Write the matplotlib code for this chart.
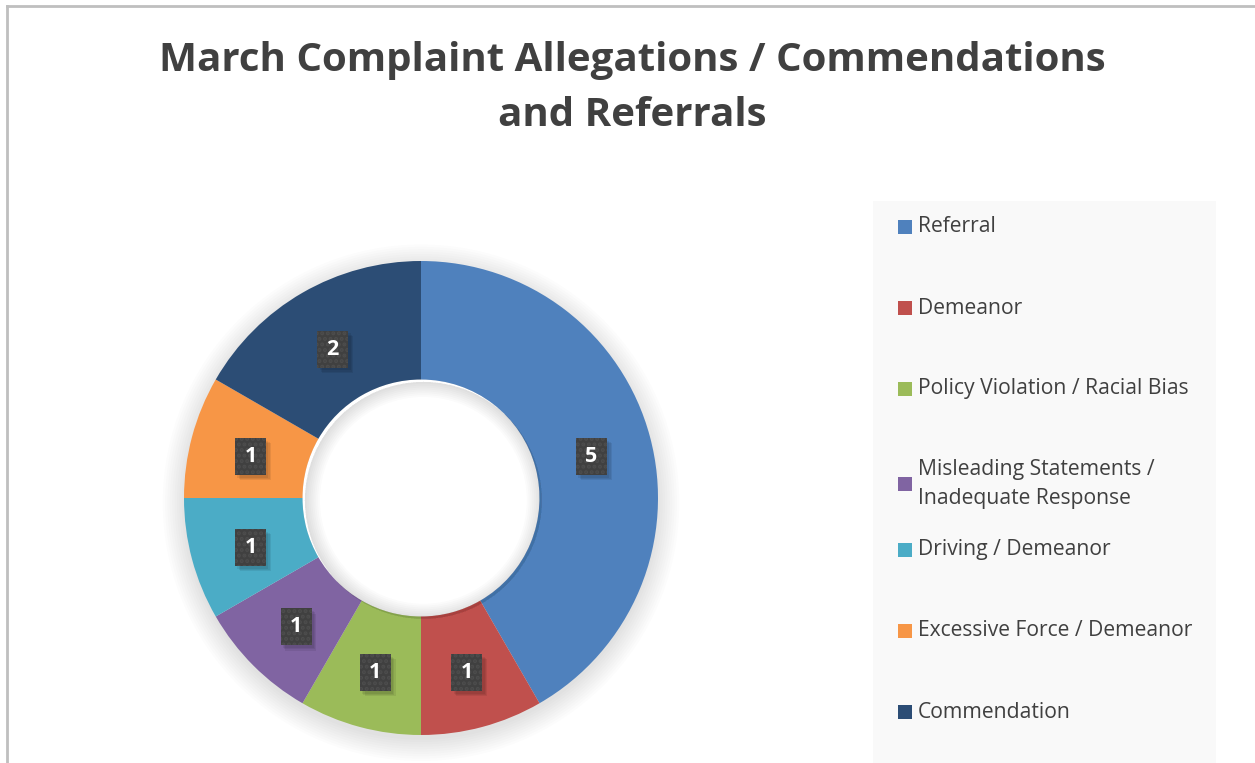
import numpy as np
import matplotlib.pyplot as plt
from matplotlib.patches import Rectangle, Circle, Wedge

categories = ["Referral", "Demeanor", "Policy Violation / Racial Bias",
              "Misleading Statements /\nInadequate Response", "Driving / Demeanor",
              "Excessive Force / Demeanor", "Commendation"]
counts = [5, 1, 1, 1, 1, 1, 2]
colors = ["#4F81BD", "#C0504D", "#9BBB59", "#8064A2", "#4BACC6", "#F79646", "#2C4D75"]
title = "March Complaint Allegations / Commendations\nand Referrals"

W, H = 1255, 763
fig = plt.figure(figsize=(W / 100, H / 100), dpi=100)
fig.patch.set_facecolor("white")

# outer frame (left + top only visible)
fig.add_artist(plt.Line2D([7 / W, 7 / W], [0, 1 - 6 / H], color="#BFBFBF", lw=2, transform=fig.transFigure))
fig.add_artist(plt.Line2D([7 / W, 1], [1 - 6 / H, 1 - 6 / H], color="#BFBFBF", lw=2, transform=fig.transFigure))

fig.text(632 / W, 1 - 88 / H, title, ha="center", va="center", fontsize=29, fontweight="bold",
         color="#404040", family="Open Sans", linespacing=1.55)

# legend panel
fig.add_artist(Rectangle((873 / W, 0), (1216 - 873) / W, (763 - 201) / H, transform=fig.transFigure,
                         facecolor="#F9F9F9", edgecolor="none", zorder=0))

# donut
cx, cy, R = 421, 498, 237
ax = fig.add_axes([(cx - R) / W, (H - cy - R) / H, 2 * R / W, 2 * R / H])

# soft outer shadow
for i in range(10):
    ax.add_patch(Circle((0.0, -0.02), 1.0 + 0.01 * i, facecolor="black", alpha=0.012,
                        edgecolor="none", zorder=0, clip_on=False))
ax.add_patch(Circle((0, 0), 0.5, facecolor="white", edgecolor="none", zorder=1))

wedges, _ = ax.pie(counts, colors=colors, startangle=90, counterclock=False, radius=1.0,
                   wedgeprops=dict(width=0.5, edgecolor="none"))
for w in wedges:
    w.set_zorder(2)

# faint inner shadow (rings inside the hole)
for i in range(8):
    ax.add_patch(Wedge((0.01, -0.01), 0.5, 0, 360, width=0.008 * (i + 1), facecolor="black",
                       alpha=0.015, edgecolor="none", zorder=3))

ax.set_xlim(-1, 1)
ax.set_ylim(-1, 1)
ax.set_aspect("equal")
ax.axis("off")

plt.rcParams["hatch.linewidth"] = 2.0
bw, bh = 31 / R, 37 / R
total = sum(counts)
start = 90.0
for v in counts:
    ang = np.deg2rad(start - 360.0 * v / total / 2)
    start -= 360.0 * v / total
    x, y = 0.745 * np.cos(ang), 0.745 * np.sin(ang) - 4 / R
    for k in range(3):
        ax.add_patch(Rectangle((x - bw / 2 + 0.01 + 0.005 * k, y - bh / 2 - 0.012 - 0.005 * k), bw, bh,
                               facecolor="black", alpha=0.07, edgecolor="none", zorder=5))
    ax.add_patch(Rectangle((x - bw / 2, y - bh / 2), bw, bh, facecolor="#404040",
                           edgecolor="#4D4D4D", hatch="...", lw=0, zorder=6))
    ax.text(x, y, str(v), ha="center", va="center", fontsize=15.5, fontweight="bold", color="white",
            family="Open Sans", zorder=7)

# legend
ys = [227, 308, 389, 484, 550, 631, 712]
for lab, col, y in zip(categories, colors, ys):
    fig.add_artist(Rectangle((898 / W, 1 - (y + 7) / H), 14 / W, 14 / H, transform=fig.transFigure,
                             facecolor=col, edgecolor="none"))
    fig.text(918 / W, 1 - y / H, lab, ha="left", va="center", fontsize=15.2, color="#404040",
             family="Open Sans", linespacing=1.45)

fig.savefig("out.png", dpi=100)
